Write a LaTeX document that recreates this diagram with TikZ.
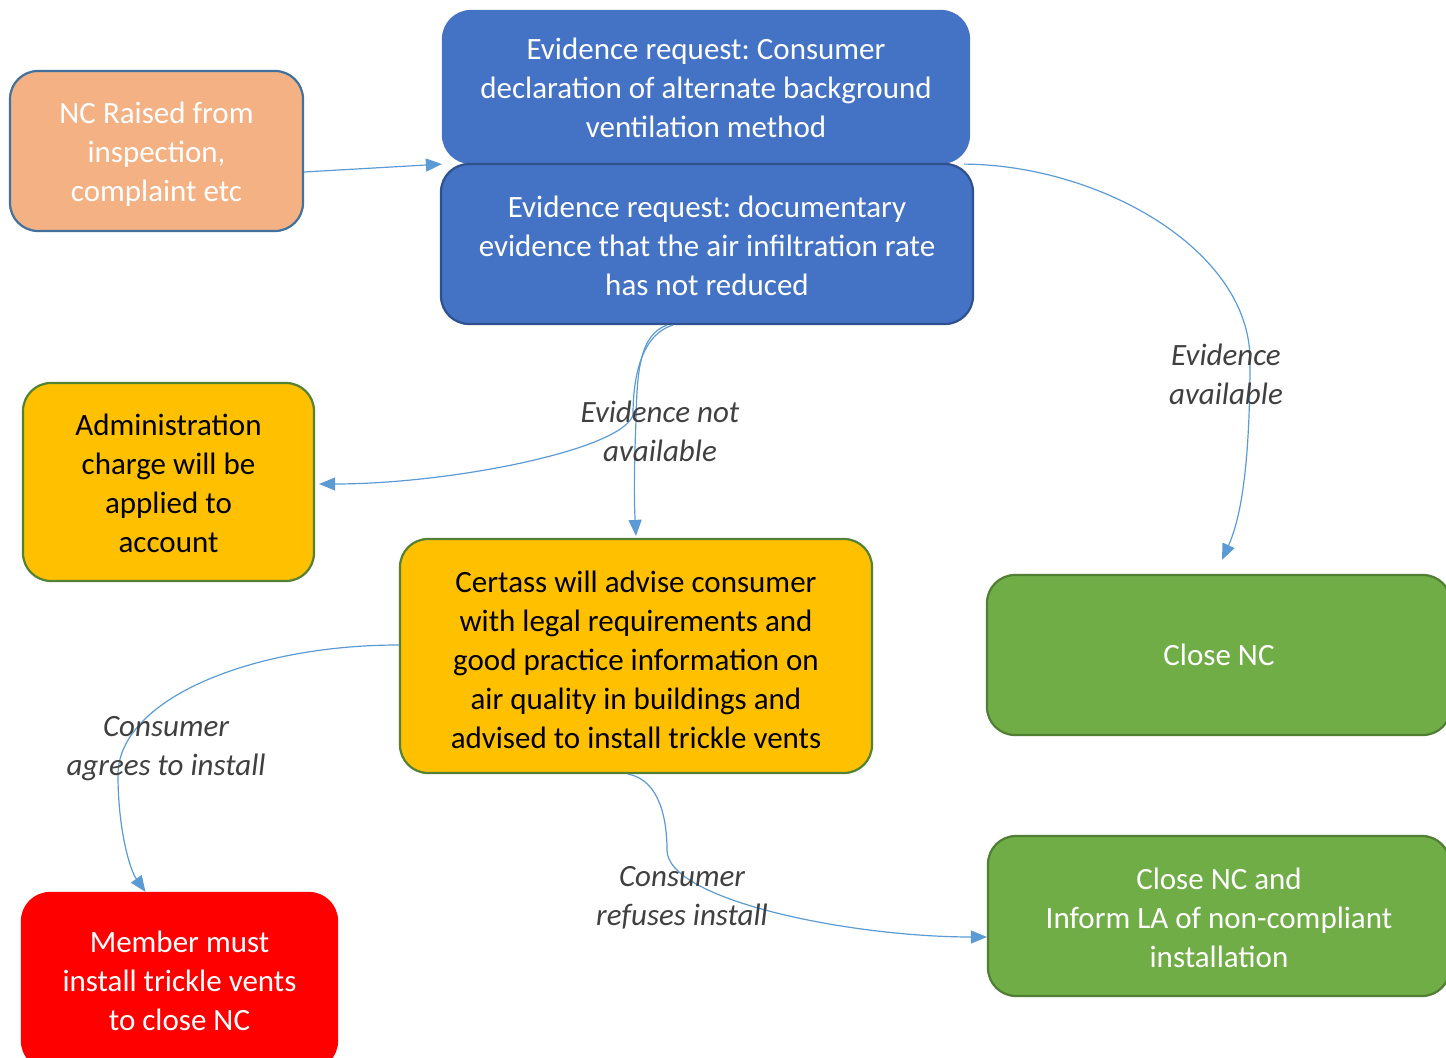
\documentclass[tikz,border=0pt]{standalone}
\usepackage{fontspec}
\setmainfont{Carlito}
\usetikzlibrary{arrows.meta,calc}
\frenchspacing

\definecolor{orangefill}{HTML}{F4B183}
\definecolor{orangeline}{HTML}{41719C}
\definecolor{bluefill}{HTML}{4472C4}
\definecolor{blueline}{HTML}{2F528F}
\definecolor{amberfill}{HTML}{FFC000}
\definecolor{amberline}{HTML}{548235}
\definecolor{greenfill}{HTML}{70AD47}
\definecolor{greenline}{HTML}{507E32}
\definecolor{redfill}{HTML}{FF0000}
\definecolor{linkcol}{HTML}{5B9BD5}
\definecolor{labelcol}{HTML}{404040}

% strut that lowers a multi-line text block slightly inside its box
\newcommand{\lowerby}[1]{\rule{0pt}{\dimexpr 11pt+#1\relax}}

\tikzset{
  box/.style={rounded corners=14pt, line width=1.1pt, align=center, inner sep=0pt,
    font=\fontsize{15.5}{19.5}\selectfont},
  link/.style={draw=linkcol, line width=0.6pt, -{Triangle[length=8pt,width=6.5pt]}},
  lbl/.style={align=center, inner sep=0pt, text=labelcol,
    font=\fontsize{15.5}{19.5}\selectfont\itshape}
}

\begin{document}
\begin{tikzpicture}[x=0.5pt,y=-0.5pt]
\useasboundingbox (0,0) rectangle (1446,1058);
\clip (0,0) rectangle (1446,1058);

% process boxes
\node[box, fill=orangefill, draw=orangeline, text=white,
  minimum width=146.5pt, minimum height=80pt] (nc) at (156.5,151)
  {\lowerby{3pt}NC Raised from\\inspection,\\complaint etc};

\node[box, fill=bluefill, draw=bluefill, text=white,
  minimum width=263pt, minimum height=76pt] (evtop) at (706,87)
  {\lowerby{1pt}Evidence request: Consumer\\declaration of alternate background\\ventilation method};

\node[box, fill=bluefill, draw=blueline, text=white,
  minimum width=266pt, minimum height=80pt] (evbot) at (707,244)
  {\lowerby{2pt}Evidence request: documentary\\evidence that the air infiltration rate\\has not reduced};

\node[box, fill=amberfill, draw=amberline, text=black,
  minimum width=145.5pt, minimum height=99pt] (admin) at (168.5,482)
  {\lowerby{1pt}Administration\\charge will be\\applied to\\account};

\node[box, fill=amberfill, draw=amberline, text=black,
  minimum width=236pt, minimum height=117pt] (advise) at (636,656)
  {\lowerby{4pt}Certass will advise consumer\\with legal requirements and\\good practice information on\\air quality in buildings and\\advised to install trickle vents};

\node[box, fill=greenfill, draw=greenline, text=white,
  minimum width=232pt, minimum height=80pt] (close) at (1219,655)
  {Close NC};

\node[box, fill=greenfill, draw=greenline, text=white,
  minimum width=231pt, minimum height=80pt] (inform) at (1219,916)
  {\lowerby{2pt}Close NC and\\Inform LA of non-compliant\\installation};

\node[box, fill=redfill, draw=redfill, text=white,
  minimum width=157.5pt, minimum height=88pt] (member) at (179.5,981)
  {Member must\\install trickle vents\\to close NC};

% connectors
\draw[link] ([yshift=-10.5pt]nc.east) -- (evtop.south west);

\draw[link] ([xshift=-3pt]evtop.south east)
  .. controls (1100,165) and (1250,250) .. (1250,360)
  .. controls (1250,470) and (1240,520) .. ([xshift=1.5pt,yshift=7pt]close.north);

\draw[link] ([xshift=-17pt]evbot.south)
  .. controls (640,335) and (633,380) .. (633,415)
  .. controls (622,450) and (450,484) .. ([xshift=2pt,yshift=-1pt]admin.east);

\draw[link] ([xshift=-20pt]evbot.south)
  .. controls (640,335) and (637,370) .. (636,420)
  .. controls (634,470) and (634,500) .. ([yshift=1pt]advise.north);

\draw[link] ([yshift=5.5pt]advise.west)
  .. controls (250,645) and (118,700) .. (118,775)
  .. controls (118,830) and (130,870) .. ([xshift=-17pt]member.north);

\draw[link] ([xshift=-4pt]advise.south)
  .. controls (660,780) and (667,820) .. (667,850)
  .. controls (667,900) and (850,937) .. ([yshift=-10.5pt]inform.west);

% branch labels
\node[lbl] (lnotavail) at (660,431.5) {Evidence not\\available};
\node[lbl] (lavail) at (1226,374.5) {Evidence\\available};
\node[lbl] (lagree) at (166,748.5) {Consumer\\agrees to install};
\node[lbl] (lrefuse) at (682,898) {Consumer\\refuses install};
\end{tikzpicture}
\end{document}
